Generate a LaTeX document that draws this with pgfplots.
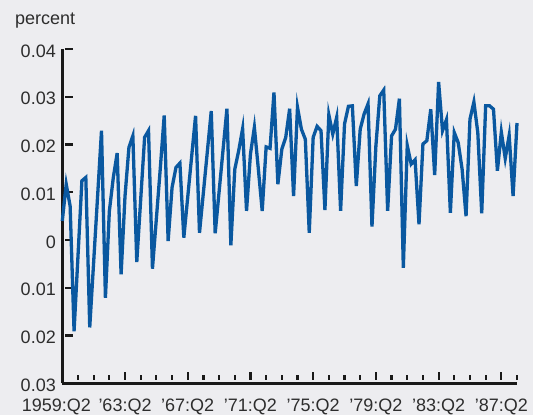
\documentclass[border=0pt]{standalone}
\usepackage{pgfplots}
\pgfplotsset{compat=1.18}
\usepackage{fontspec}
\setmainfont{Liberation Sans}
\definecolor{bgpanel}{RGB}{237,237,240}
\definecolor{seriesblue}{RGB}{10,88,160}
\definecolor{labelgray}{RGB}{45,45,45}

% quarterly change, 1959:Q2 (index 0) to 1988:Q2 (index 116)
\pgfplotstableread{
q v
0 0.0040
1 0.0117
2 0.0071
3 -0.0191
4 -0.0034
5 0.0124
6 0.0131
7 -0.0183
8 -0.0046
9 0.0091
10 0.0229
11 -0.0121
12 0.0060
13 0.0130
14 0.0182
15 -0.0072
16 0.0092
17 0.0194
18 0.0218
19 -0.0046
20 0.0085
21 0.0215
22 0.0229
23 -0.0060
24 0.0045
25 0.0150
26 0.0261
27 -0.0002
28 0.0110
29 0.0152
30 0.0161
31 0.0005
32 0.0090
33 0.0175
34 0.0260
35 0.0015
36 0.0100
37 0.0185
38 0.0270
39 0.0014
40 0.0101
41 0.0188
42 0.0275
43 -0.0011
44 0.0148
45 0.0187
46 0.0233
47 0.0061
48 0.0180
49 0.0236
50 0.0150
51 0.0061
52 0.0195
53 0.0192
54 0.0309
55 0.0117
56 0.0190
57 0.0215
58 0.0275
59 0.0092
60 0.0278
61 0.0232
62 0.0211
63 0.0015
64 0.0215
65 0.0238
66 0.0229
67 0.0063
68 0.0262
69 0.0222
70 0.0257
71 0.0061
72 0.0243
73 0.0280
74 0.0281
75 0.0113
76 0.0232
77 0.0264
78 0.0285
79 0.0028
80 0.0197
81 0.0302
82 0.0314
83 0.0061
84 0.0218
85 0.0232
86 0.0296
87 -0.0058
88 0.0198
89 0.0159
90 0.0168
91 0.0033
92 0.0201
93 0.0208
94 0.0274
95 0.0136
96 0.0331
97 0.0229
98 0.0252
99 0.0057
100 0.0225
101 0.0204
102 0.0148
103 0.0050
104 0.0253
105 0.0289
106 0.0225
107 0.0056
108 0.0281
109 0.0281
110 0.0274
111 0.0145
112 0.0226
113 0.0171
114 0.0219
115 0.0092
116 0.0245
}\datatable

\begin{document}
\begin{tikzpicture}
\fill[bgpanel] (-62.3bp,-31.7bp) rectangle (470.7bp,383.3bp);
\useasboundingbox (-62.3bp,-31.7bp) rectangle (470.7bp,383.3bp);
\begin{axis}[
  at={(0,0)}, anchor=south west,
  scale only axis,
  width=454.7bp, height=334.3bp,
  xmin=0, xmax=116,
  ymin=-0.03, ymax=0.04,
  axis x line*=bottom,
  axis y line*=left,
  axis line style={line width=2.6bp, black!90},
  % centred ticks, shifted so that they stand on the inner side of each axis line
  major tick length=8bp,
  minor tick length=5bp,
  xtick style={line width=2.2bp, black!90, yshift=3.6bp},
  ytick style={line width=2.2bp, black!90, xshift=2.8bp},
  xtick={0,16,32,48,64,80,96,112},
  minor xtick={0,4,...,116},
  xticklabels={\hspace*{-12bp}1959:Q2,’63:Q2,’67:Q2,’71:Q2,’75:Q2,’79:Q2,’83:Q2,’87:Q2},
  ytick={-0.03,-0.02,-0.01,0,0.01,0.02,0.03,0.04},
  yticklabels={0.03,0.02,0.01,0,0.01,0.02,0.03,0.04},
  scaled y ticks=false,
  tick label style={font=\fontsize{18bp}{20bp}\selectfont, text=labelgray},
  xticklabel style={yshift=-12bp},
  yticklabel style={xshift=-3bp, yshift=-2bp},
  clip=false,
]
\addplot[seriesblue, line width=3.3bp] table[x=q, y=v] {\datatable};
\end{axis}
\node[anchor=base west, font=\fontsize{18bp}{20bp}\selectfont, text=labelgray, inner sep=0pt]
  at (-47.3bp,358.3bp) {percent};
\end{tikzpicture}
\end{document}
